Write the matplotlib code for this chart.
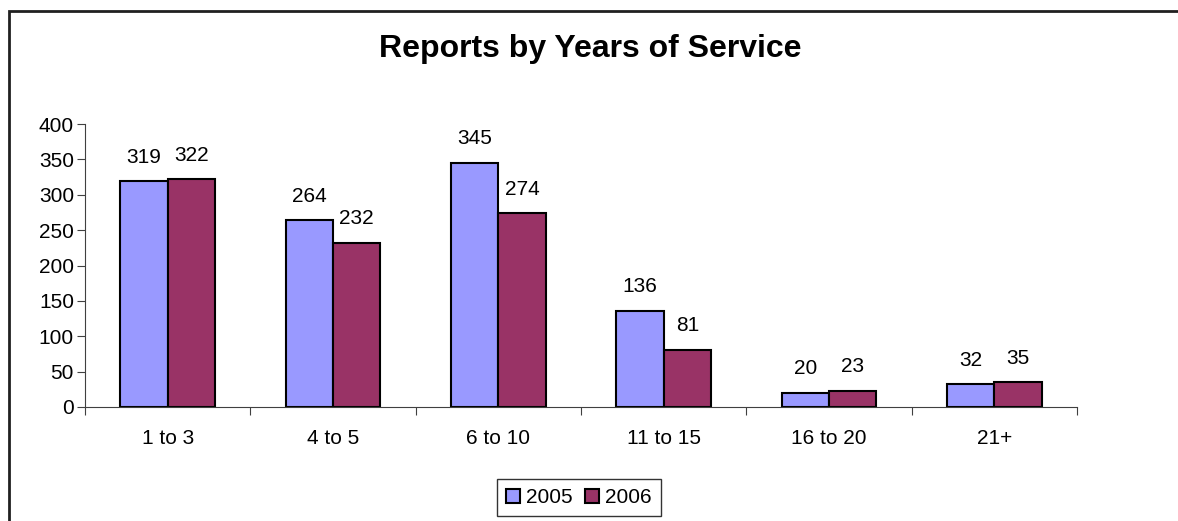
import numpy as np
import matplotlib.pyplot as plt
from matplotlib.patches import Rectangle

plt.rcParams['font.family'] = ['Liberation Sans', 'DejaVu Sans']

categories = ['1 to 3', '4 to 5', '6 to 10', '11 to 15', '16 to 20', '21+']
reports_2005 = [319, 264, 345, 136, 20, 32]
reports_2006 = [322, 232, 274, 81, 23, 35]

fig = plt.figure(figsize=(11.78, 5.21), dpi=100)
ax = fig.add_axes([85 / 1178, 1 - 407 / 521, (1077 - 85) / 1178, (407 - 124) / 521])

x = np.arange(len(categories))
w = 1 / 3.5
b1 = ax.bar(x - w / 2, reports_2005, w, color='#9999FF', edgecolor='black', linewidth=1.5, label='2005')
b2 = ax.bar(x + w / 2, reports_2006, w, color='#993366', edgecolor='black', linewidth=1.5, label='2006')

for bars in (b1, b2):
    for r in bars:
        ax.annotate(f"{int(r.get_height())}", (r.get_x() + r.get_width() / 2, r.get_height()),
                    xytext=(0, 10.5), textcoords='offset points', ha='center', va='bottom', fontsize=15)

ax.set_xlim(-0.5, len(categories) - 0.5)
ax.set_ylim(0, 400)
ax.set_yticks(range(0, 401, 50))
ax.set_xticks(np.arange(-0.5, len(categories), 1))
ax.set_xticklabels([])
ax.set_xticks(x, minor=True)
ax.set_xticklabels(categories, minor=True)
ax.tick_params(axis='x', which='minor', length=0, pad=16, labelsize=15)
ax.tick_params(axis='x', which='major', length=6, direction='out', color='#404040')
ax.tick_params(axis='y', length=6, direction='out', pad=2, labelsize=15, color='#404040')
for s in ('top', 'right'):
    ax.spines[s].set_visible(False)
for s in ('left', 'bottom'):
    ax.spines[s].set_color('#404040')

fig.text(590 / 1178, 1 - 57 / 521, 'Reports by Years of Service', ha='center', va='baseline',
         fontsize=23, fontweight='bold')

leg = fig.legend(loc='center', bbox_to_anchor=(579 / 1178, 1 - 497.5 / 521), ncol=2, fontsize=15,
                 frameon=True, fancybox=False, edgecolor='black', handlelength=0.65, handleheight=0.65,
                 handletextpad=0.3, columnspacing=0.6, borderpad=0.45)
leg.get_frame().set_linewidth(1)

# outer chart frame (cut off at right and bottom)
fig.patches.append(Rectangle((8.5 / 1178, -0.1), 1.2, 1 - 11 / 521 + 0.1, transform=fig.transFigure,
                             fill=False, edgecolor='#202020', linewidth=2))

fig.savefig('out.png', dpi=100)
